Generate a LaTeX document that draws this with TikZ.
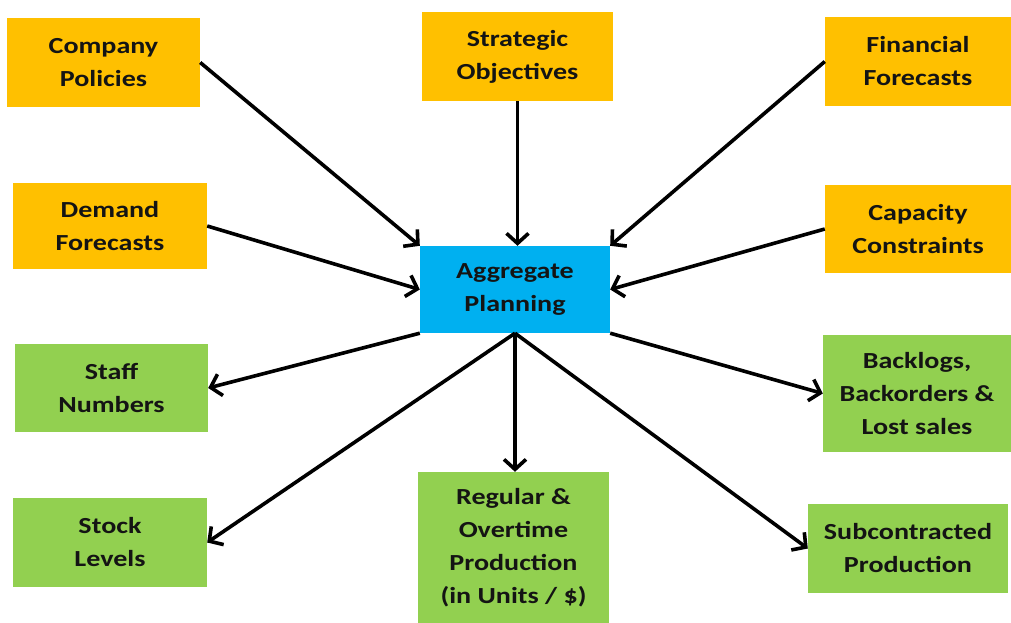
\documentclass[tikz,border=0pt]{standalone}
\usepackage{fontspec}
\setmainfont{Carlito}[FakeStretch=1.22]
\usepackage{tikz}
\usetikzlibrary{arrows.meta}
\definecolor{inputcol}{HTML}{FFC000}
\definecolor{planbcol}{HTML}{00B0F0}
\definecolor{outputcol}{HTML}{92D050}
\definecolor{textcol}{HTML}{141414}
\tikzset{
  box/.style={inner sep=0pt,align=center,text=textcol,font=\fontsize{23}{33}\selectfont\bfseries},
  inbox/.style={box,fill=inputcol},
  outbox/.style={box,fill=outputcol},
  link/.style={line width=3.6pt,-{Straight Barb[length=10pt,width=22pt]}}
}
\begin{document}
\begin{tikzpicture}[x=1pt,y=-1pt]
              \useasboundingbox (0,0) rectangle (1011,623);
              \node[inbox,minimum width=193,minimum height=89](cp)at(103.5,62.5){Company\\Policies};
              \node[inbox,minimum width=191,minimum height=89](so)at(517.5,56.5){Strategic\\Objectives};
              \node[inbox,minimum width=186,minimum height=89](ff)at(918,61.5){Financial\\Forecasts};
              \node[inbox,minimum width=194,minimum height=86](df)at(110,226){Demand\\Forecasts};
              \node[inbox,minimum width=186,minimum height=88](cc)at(918,229){Capacity\\Constraints};
              \node[box,fill=planbcol,minimum width=190,minimum height=87](ap)at(515,289.5){Aggregate\\Planning};
              \node[outbox,minimum width=193,minimum height=88](sn)at(111.5,388){Staff\\Numbers};
              \node[outbox,minimum width=188,minimum height=117](bl)at(917,393.5){Backlogs,\\Backorders \&\\Lost sales};
              \node[outbox,minimum width=194,minimum height=89](sl)at(110,542.5){Stock\\Levels};
              \node[outbox,minimum width=191,minimum height=152](ro)at(513.5,548){Regular \&\\Overtime\\Production\\(in Units / \$)};
              \node[outbox,minimum width=200,minimum height=89](sp)at(908,548.5){Subcontracted\\Production};
              \draw[link](cp.east)--(ap.north west);
              \draw[link](so.south)--(so.south|-ap.north);
              \draw[link](ff.west)--(ap.north east);
              \draw[link](df.east)--(ap.west);
              \draw[link](cc.west)--(ap.east);
              \draw[link](ap.south west)--(sn.east);
              \draw[link](ap.south)--(sl.east);
              \draw[link](ap.south)--(ap.south|-ro.north);
              \draw[link](ap.south east)--(bl.west);
              \draw[link](ap.south)--(sp.west);
            \end{tikzpicture}
\end{document}
